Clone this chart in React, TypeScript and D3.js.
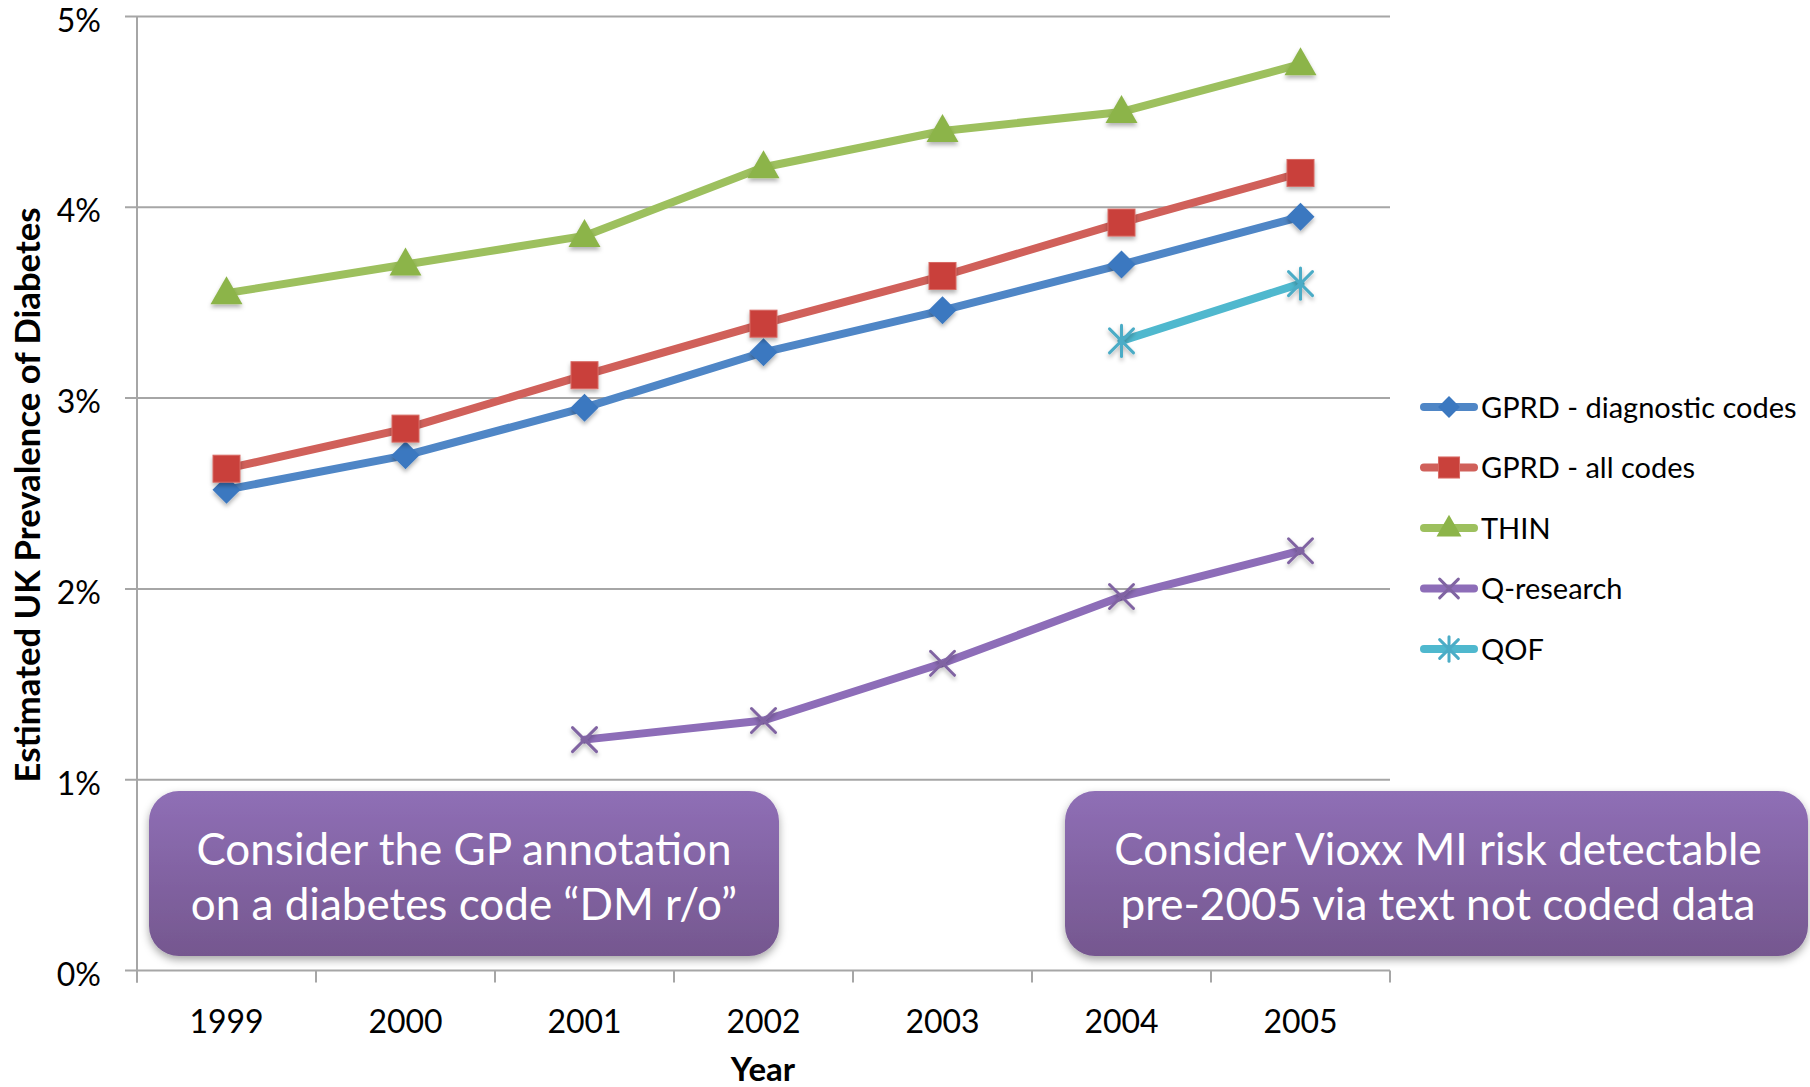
import React from "react";
import * as d3 from "d3";

const years = ["1999", "2000", "2001", "2002", "2003", "2004", "2005"];
const gprdDiag = [2.52, 2.70, 2.95, 3.24, 3.46, 3.70, 3.95];
const gprdAll = [2.63, 2.84, 3.12, 3.39, 3.64, 3.92, 4.18];
const thin = [3.55, 3.70, 3.85, 4.21, 4.40, 4.50, 4.75];
const qResearch = [null, null, 1.21, 1.31, 1.61, 1.96, 2.20];
const qof = [null, null, null, null, null, 3.30, 3.60];
const yTicks = [0, 1, 2, 3, 4, 5];
const seriesNames = ["GPRD - diagnostic codes", "GPRD - all codes", "THIN", "Q-research", "QOF"];
const lineColors = ["#4F86C6", "#D0605A", "#9DC05E", "#8D6DB8", "#4FB8CE"];
const markerColors = ["#3B78C0", "#C9413B", "#8CB449", "#8064A2", "#4BACC6"];
const markerTypes = ["diamond", "square", "triangle", "x", "star"];
const boxTexts = [
  ["Consider the GP annotation", "on a diabetes code \u201CDM r/o\u201D"],
  ["Consider Vioxx MI risk detectable", "pre-2005 via text not coded data"],
];

const W = 1810;
const H = 1087;
const FONT = "Lato, 'Open Sans', sans-serif";

function Marker({ type, color, s = 1 }: { type: string; color: string; s?: number }) {
  if (type === "diamond") {
    const r = 14 * s;
    return <path d={`M0,${-r}L${r},0L0,${r}L${-r},0Z`} fill={color} />;
  }
  if (type === "square") {
    const h = 13.5 * s;
    return <rect x={-h} y={-h} width={2 * h} height={2 * h} fill={color} stroke="#D86A64" strokeWidth={1} />;
  }
  if (type === "triangle") {
    return <path d={`M0,${-17 * s}L${16 * s},${11 * s}L${-16 * s},${11 * s}Z`} fill={color} />;
  }
  const a = 12 * s;
  return (
    <g stroke={color} strokeWidth={3} strokeLinecap="round">
      <line x1={-a} y1={-a} x2={a} y2={a} />
      <line x1={-a} y1={a} x2={a} y2={-a} />
      {type === "star" && <line x1={0} y1={-a * 1.3} x2={0} y2={a * 1.3} />}
    </g>
  );
}

export default function App() {
  const x0 = 137;
  const x1 = 1390;
  const yBottom = 970.5;
  const yTop = 16.5;
  const x = d3.scaleBand<string>().domain(years).range([x0, x1]).padding(0);
  const bw = x.bandwidth();
  const cx = (yr: string) => (x(yr) as number) + bw / 2;
  const y = d3.scaleLinear().domain([0, 5]).range([yBottom, yTop]);
  const allSeries = [gprdDiag, gprdAll, thin, qResearch, qof];
  const line = d3
    .line<[string, number | null]>()
    .defined((d) => d[1] != null)
    .x((d) => cx(d[0]))
    .y((d) => y(d[1] as number));

  const boundaries = years.map((yr) => x(yr) as number).concat([x1]);
  const gridColor = "#A6A6A6";

  const boxes = [
    { x: 149, w: 630, cxText: 464 },
    { x: 1065, w: 743, cxText: 1438 },
  ];
  const boxY = 791;
  const boxH = 165;

  const legendY0 = 407;
  const legendStep = 60.5;

  return (
    <svg width={W} height={H} style={{ display: "block", position: "absolute", left: 0, top: 0 }} fontFamily={FONT}>
      <defs>
        <filter id="mshadow" x="-50%" y="-50%" width="200%" height="200%">
          <feDropShadow dx="0" dy="3" stdDeviation="2" floodColor="#000" floodOpacity="0.3" />
        </filter>
        <filter id="bshadow" x="-10%" y="-20%" width="120%" height="150%">
          <feDropShadow dx="0" dy="4" stdDeviation="4" floodColor="#000" floodOpacity="0.35" />
        </filter>
        <linearGradient id="boxgrad" x1="0" y1="0" x2="0" y2="1">
          <stop offset="0" stopColor="#8F6FB6" />
          <stop offset="1" stopColor="#75578F" />
        </linearGradient>
      </defs>
      <rect width={W} height={H} fill="#fff" />

      {/* gridlines */}
      {yTicks.map((t) => (
        <line key={t} x1={125} x2={x1} y1={y(t)} y2={y(t)} stroke={gridColor} strokeWidth={2} />
      ))}
      {/* y axis */}
      <line x1={x0} x2={x0} y1={yTop} y2={yBottom + 12} stroke={gridColor} strokeWidth={2} />
      {boundaries.map((b, i) => (
        <line key={i} x1={b} x2={b} y1={yBottom} y2={yBottom + 12} stroke={gridColor} strokeWidth={2} />
      ))}
      {yTicks.map((t) => (
        <text key={t} x={101} y={y(t) + 15} textAnchor="end" fontSize={32} fill="#000">
          {t}%
        </text>
      ))}
      {years.map((yr) => (
        <text key={yr} x={cx(yr)} y={1033} textAnchor="middle" fontSize={32} fill="#000">
          {yr}
        </text>
      ))}
      <text x={763} y={1081} textAnchor="middle" fontSize={33} fontWeight="bold" fill="#000">
        Year
      </text>
      <text
        transform={`translate(40,495) rotate(-90)`}
        textAnchor="middle"
        fontSize={34}
        fontWeight="bold"
        fill="#000"
        textLength={575}
        lengthAdjust="spacingAndGlyphs"
      >
        Estimated UK Prevalence of Diabetes
      </text>

      {/* series lines */}
      {allSeries.map((vals, i) => (
        <path
          key={i}
          d={line(years.map((yr, j) => [yr, vals[j]]) as [string, number | null][]) || ""}
          fill="none"
          stroke={lineColors[i]}
          strokeWidth={8}
          strokeLinejoin="round"
          strokeLinecap="round"
        />
      ))}
      {allSeries.map((vals, i) =>
        years.map((yr, j) =>
          vals[j] == null ? null : (
            <g key={`${i}-${j}`} transform={`translate(${cx(yr)},${y(vals[j] as number)})`} filter="url(#mshadow)">
              <Marker type={markerTypes[i]} color={markerColors[i]} />
            </g>
          )
        )
      )}

      {/* legend */}
      {seriesNames.map((name, i) => {
        const ly = legendY0 + i * legendStep;
        return (
          <g key={name}>
            <line x1={1424} x2={1474} y1={ly} y2={ly} stroke={lineColors[i]} strokeWidth={8} strokeLinecap="round" />
            <g transform={`translate(1449,${ly})`}>
              <Marker type={markerTypes[i]} color={markerColors[i]} s={0.78} />
            </g>
            <text x={1481} y={ly + 10.5} fontSize={29} fill="#000">
              {name}
            </text>
          </g>
        );
      })}

      {/* annotation boxes */}
      {boxes.map((b, i) => (
        <g key={i}>
          <rect x={b.x} y={boxY} width={b.w} height={boxH} rx={30} ry={30} fill="url(#boxgrad)" filter="url(#bshadow)" />
          {boxTexts[i].map((t, k) => (
            <text key={k} x={b.cxText} y={865 + k * 55} textAnchor="middle" fontSize={44} fill="#fff">
              {t}
            </text>
          ))}
        </g>
      ))}
    </svg>
  );
}
